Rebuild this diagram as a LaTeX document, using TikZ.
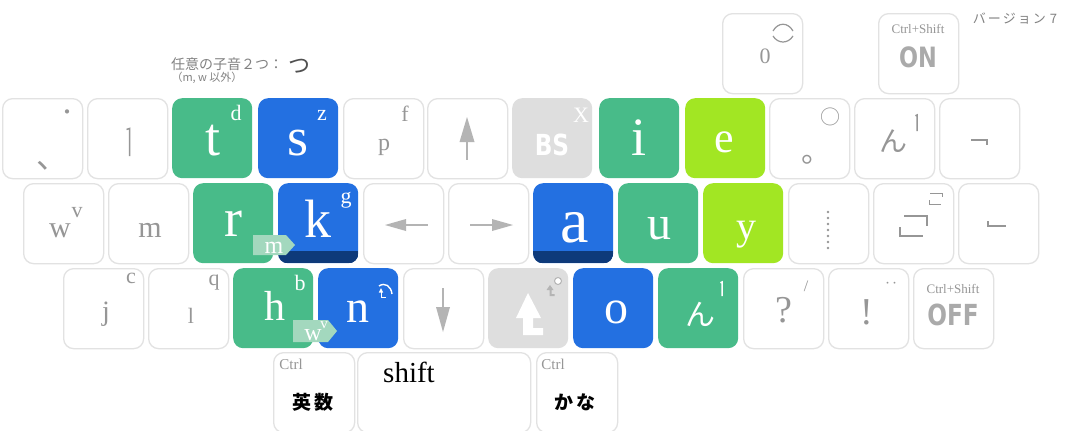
\documentclass[tikz,border=0pt]{standalone}
\usepackage{fontspec}
\setmainfont{Liberation Serif}
\newfontfamily\jpfont{Noto Sans CJK JP}
\newfontfamily\capfont{DejaVu Sans}[FakeStretch=0.8]
\usetikzlibrary{calc}

\definecolor{kgreen}{RGB}{72,187,137}
\definecolor{kblue}{RGB}{35,112,225}
\definecolor{klime}{RGB}{162,230,35}
\definecolor{kgrey}{RGB}{222,222,222}
\definecolor{kedge}{RGB}{226,226,226}
\definecolor{kdark}{RGB}{14,58,122}
\definecolor{ktag}{RGB}{163,216,190}
\definecolor{ktext}{RGB}{150,150,150}
\definecolor{kcap}{RGB}{170,170,170}
\definecolor{karrow}{RGB}{180,180,180}
\definecolor{knote}{RGB}{130,130,130}
\definecolor{knotedark}{RGB}{80,80,80}

\newcommand\kfs[1]{\fontsize{#1}{#1}\selectfont}

\begin{document}
\begin{tikzpicture}[x=1pt,y=-1pt,
  kbase/.style={rectangle, rounded corners=10pt, minimum width=80pt,
    minimum height=80pt, inner sep=0pt, anchor=north west},
  wkey/.style={kbase, draw=kedge, line width=1.3pt, fill=white},
  greenkey/.style={kbase, fill=kgreen},
  bluekey/.style={kbase, fill=kblue},
  limekey/.style={kbase, fill=klime},
  greykey/.style={kbase, fill=kgrey},
  lbl/.style={inner sep=0pt, anchor=base},
  bigletter/.style={lbl, text=white, font=\kfs{54}},
  suplbl/.style={lbl, font=\kfs{22}},
  greytxt/.style={text=ktext},
  jp/.style={inner sep=0pt},
  glyphline/.style={draw=ktext, line width=1.5pt},
  tagshape/.style={fill=ktag},
  arrowshaft/.style={draw=karrow, line width=2.6pt},
  arrowhead/.style={fill=karrow},
]
\useasboundingbox (0,0) rectangle (1069,431);
\fill[white] (0,0) rectangle (1069,431);

% ---------- keys ----------
% top row
\node[wkey] (kzero) at (722,13) {};
\node[wkey] (kon) at (878,13) {};
% row 1
\node[wkey] (kcomma) at (2,98) {};
\node[wkey] (kbar) at (87,98) {};
\node[greenkey] (kt) at (172,98) {};
\node[bluekey] (ks) at (258,98) {};
\node[wkey] (kp) at (343,98) {};
\node[wkey] (kup) at (427,98) {};
\node[greykey] (kbs) at (512,98) {};
\node[greenkey] (ki) at (599,98) {};
\node[limekey] (ke) at (685,98) {};
\node[wkey] (kmaru) at (769,98) {};
\node[wkey] (knone) at (854,98) {};
\node[wkey] (kbrk) at (939,98) {};
% row 2
\node[wkey] (kw) at (23,183) {};
\node[wkey] (km) at (108,183) {};
\node[greenkey] (kr) at (193,183) {};
\node[bluekey] (kk) at (278,183) {};
\node[wkey] (kleft) at (363,183) {};
\node[wkey] (kright) at (448,183) {};
\node[bluekey] (ka) at (533,183) {};
\node[greenkey] (ku) at (618,183) {};
\node[limekey] (ky) at (703,183) {};
\node[wkey] (kdots) at (788,183) {};
\node[wkey] (kquote) at (873,183) {};
\node[wkey] (kcorner) at (958,183) {};
% row 3
\node[wkey] (kj) at (63,268) {};
\node[wkey] (kl) at (148,268) {};
\node[greenkey] (kh) at (233,268) {};
\node[bluekey] (kn) at (318,268) {};
\node[wkey] (kdown) at (403,268) {};
\node[greykey] (kshift) at (488,268) {};
\node[bluekey] (ko) at (573,268) {};
\node[greenkey] (knn) at (658,268) {};
\node[wkey] (kq) at (743,268) {};
\node[wkey] (kex) at (828,268) {};
\node[wkey] (koff) at (913,268) {};
% row 4
\node[wkey, minimum width=81pt] (keisu) at (273,352) {};
\node[wkey, minimum width=173pt] (kspace) at (357,352) {};
\node[wkey, minimum width=81pt] (kkana) at (536,352) {};

% dark strips on the home-position keys
\foreach \kk in {kk,ka}{
  \begin{scope}
    \clip[rounded corners=10pt] (\kk.north west) rectangle (\kk.south east);
    \fill[kdark] ([yshift=12pt]\kk.south west) rectangle (\kk.south east);
  \end{scope}
}

% ---------- notes ----------
\node[jp, text=knote, font=\jpfont\kfs{14}] (note) at (227,64) {任意の子音２つ：};
\node[jp, text=knotedark, font=\jpfont\kfs{22}] (notetsu) at (299,66) {つ};
\node[jp, text=knote, font=\jpfont\kfs{11}] (notesub) at (207,78) {（m, w 以外）};
\node[jp, text=knote, font=\jpfont\kfs{13}] (version) at (1015,19)
  {バ\hspace{2pt}ー\hspace{2pt}ジ\hspace{2pt}ョ\hspace{2pt}ン\hspace{4pt}7};

% ---------- top keys ----------
\node[lbl, greytxt, font=\kfs{22}] at (765,63) {0};
\draw[glyphline, line width=1.2pt] (773,31) .. controls (778,22) and (788,22) .. (793,31);
\draw[glyphline, line width=1.2pt] (773,36) .. controls (778,44) and (788,44) .. (793,36);
\node[lbl, greytxt, font=\kfs{13}] at (918,33) {Ctrl+Shift};
\node[lbl, text=kcap, font=\capfont\bfseries\kfs{28}] at (918,67) {ON};

% ---------- row 1 labels ----------
\node[jp, greytxt, font=\jpfont\kfs{20}] at (67,115) {・};
\node[jp, greytxt, font=\jpfont\kfs{32}] at (52,166) {、};
\draw[glyphline] (126.5,129.5) -- (129.5,128.5) -- (129.5,156);
\node[bigletter] at (213,155) {t};
\node[suplbl, text=white] at (236,120) {d};
\node[bigletter] at (298,155) {s};
\node[suplbl, text=white] at (322,120) {z};
\node[lbl, greytxt, font=\kfs{24}] at (384,150) {p};
\node[suplbl, greytxt] at (405,121) {f};
\fill[arrowhead] (467,117) -- (474.5,142) -- (459.5,142) -- cycle;
\draw[arrowshaft] (467,140) -- (467,160);
\node[lbl, text=white, font=\capfont\bfseries\kfs{29}] at (552,155) {BS};
\node[lbl, text=white, font=\kfs{22}] at (581,122) {X};
\node[bigletter] at (639,155) {i};
\node[bigletter, font=\kfs{44}] at (724,152) {e};
\node[jp, greytxt, font=\jpfont\kfs{30}] at (816,160) {。};
\node[jp, greytxt, font=\jpfont\kfs{20}] at (830,117) {○};
\node[jp, greytxt, font=\jpfont\kfs{28}] at (893,141) {ん};
\draw[glyphline] (915.5,115.8) -- (917,115) -- (917,131);
\draw[glyphline] (971,140) -- (987,140) -- (987,145);

% ---------- row 2 labels ----------
\node[lbl, greytxt, font=\kfs{30}] at (60,237) {w};
\node[suplbl, greytxt] at (77,217) {v};
\node[lbl, greytxt, font=\kfs{30}] at (150,237) {m};
\node[bigletter] at (233,236) {r};
\node[bigletter] at (318,237) {k};
\node[suplbl, text=white] at (346,203) {g};
\fill[tagshape] (253,235) -- (286,235) -- (295,245) -- (286,255) -- (253,255) -- cycle;
\node[lbl, text=white, font=\kfs{24}] at (274,253) {m};
\fill[arrowhead] (385,225) -- (406,219) -- (406,231) -- cycle;
\draw[arrowshaft] (404,225) -- (428,225);
\fill[arrowhead] (513,225) -- (492,219) -- (492,231) -- cycle;
\draw[arrowshaft] (470,225) -- (494,225);
\node[bigletter, font=\kfs{64}] at (575,242) {a};
\node[bigletter, font=\kfs{48}] at (659,239) {u};
\node[bigletter, font=\kfs{40}] at (746,239) {y};
\foreach \yy in {212,218,...,248} \fill[ktext] (828,\yy) circle (1.4);
\draw[glyphline] (904,216) -- (927,216) -- (927,226);
\draw[glyphline] (900,227) -- (900,236) -- (923,236);
\draw[glyphline, line width=1pt] (930,193) -- (942,193) -- (942,197);
\draw[glyphline, line width=1pt] (929,200) -- (929,204) -- (941,204);
\draw[glyphline] (988,221) -- (988,226) -- (1006,226);

% ---------- row 3 labels ----------
\node[lbl, greytxt, font=\kfs{28}] at (106,320) {j};
\node[suplbl, greytxt] at (131,283) {c};
\node[lbl, greytxt, font=\kfs{22}] at (191,323) {l};
\node[suplbl, greytxt] at (214,285) {q};
\node[bigletter, font=\kfs{42}] at (275,320) {h};
\node[suplbl, text=white] at (300,290) {b};
\node[bigletter, font=\kfs{46}] at (358,322) {n};
% small turn mark on n
\draw[white, line width=1.4pt] (379,286) .. controls (385,282) and (391,286) .. (392,294);
\fill[white] (381,288) -- (378.8,292.5) -- (383.2,292.5) -- cycle;
\draw[white, line width=1pt] (381,292) -- (381,297) -- (386,297);
\fill[tagshape] (293,320) -- (328,320) -- (337,331) -- (328,342) -- (293,342) -- cycle;
\node[lbl, text=white, font=\kfs{24}] at (313,340) {w};
\node[lbl, text=white, font=\kfs{15}] at (324,328) {v};
\fill[arrowhead] (443,332) -- (436,307) -- (450,307) -- cycle;
\draw[arrowshaft] (443,288) -- (443,309);
% shift mark
\fill[white] (528,293) -- (541,318) -- (533,318) -- (533,328) -- (543,328)
  -- (543,335) -- (523,335) -- (523,318) -- (516,318) -- cycle;
\fill[karrow] (550,285) -- (553.5,290) -- (551.5,290) -- (551.5,294) -- (554.5,294)
  -- (554.5,296) -- (549.5,296) -- (549.5,290) -- (546.5,290) -- cycle;
\draw[karrow, fill=white, line width=1pt] (558,281) circle (3.5);
\node[bigletter, font=\kfs{48}] at (616,323) {o};
\node[jp, text=white, font=\jpfont\kfs{30}] at (700,314) {ん};
\draw[white, line width=1.5pt] (720.5,282.8) -- (722,282) -- (722,296);
\node[lbl, greytxt, font=\kfs{38}] at (784,322) {?};
\node[jp, greytxt, font=\kfs{16}] at (806,286) {/};
\node[lbl, greytxt, font=\kfs{38}] at (867,324) {!};
\node[jp, greytxt, font=\jpfont\kfs{14}] at (891,285) {‥};
\node[lbl, greytxt, font=\kfs{13}] at (953,293) {Ctrl+Shift};
\node[lbl, text=kcap, font=\capfont\bfseries\kfs{29}] at (953,325) {OFF};

% ---------- row 4 labels ----------
\node[lbl, greytxt, font=\kfs{15}] at (291,369) {Ctrl};
\node[jp, font=\jpfont\bfseries\kfs{19}] at (313,402) {英\hspace{3pt}数};
\node[lbl, font=\kfs{29}] at (409,382) {shift};
\node[lbl, greytxt, font=\kfs{15}] at (553,369) {Ctrl};
\node[jp, font=\jpfont\bfseries\kfs{19}] at (575,402) {か\hspace{3pt}な};
\end{tikzpicture}
\end{document}
